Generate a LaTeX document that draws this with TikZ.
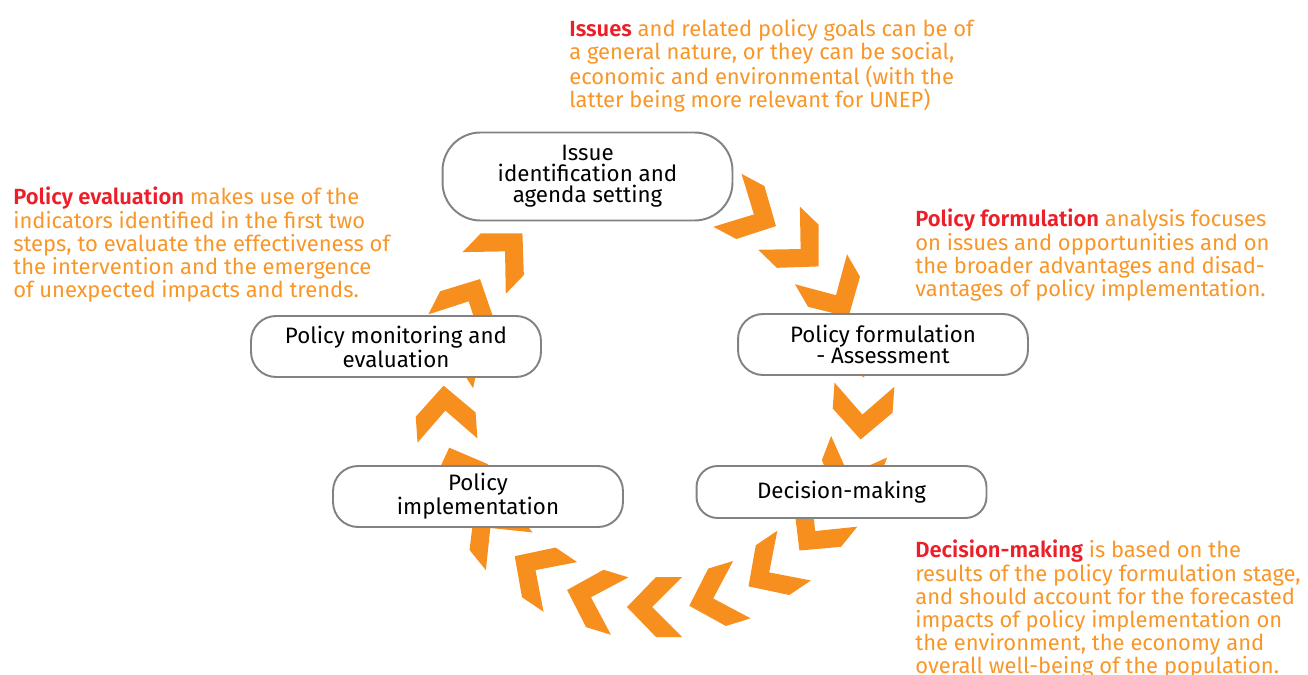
\documentclass[tikz,border=0pt]{standalone}
\usepackage{fontspec}
\setmainfont{Fira Sans}[BoldFont={* SemiBold}]
\usepackage{xcolor}

\definecolor{cycleorange}{RGB}{247,143,30}
\definecolor{noteorange}{RGB}{248,150,40}
\definecolor{notered}{RGB}{236,30,40}
\definecolor{stagegray}{RGB}{130,130,130}

\tikzset{
	stage/.style={draw=stagegray, line width=1.1pt, fill=white, rounded corners=0.5cm,
		minimum width=5.8cm, minimum height=1.22cm, align=center, inner sep=0pt,
		font=\fontsize{12.7}{12}\selectfont},
	note/.style={anchor=north west, inner sep=0pt, align=left, text=noteorange,
		font=\fontsize{12.5}{13.1}\selectfont}
}
\newcommand{\hl}[1]{{\color{notered}\bfseries #1}}

\begin{document}
\begin{tikzpicture}[x=0.02cm, y=0.02cm]
	\useasboundingbox (0,0) rectangle (1308,-675);
	% ring of chevrons, clockwise
	\begin{scope}[shift={(654,-398)}]
		\foreach \a in {-90,-73,-56,-39,-21,-4,13,30,46,62,136,153,168,184,201,219,236,253}
			\fill[cycleorange, shift={(\a:209)}, rotate=\a-90]
				(27,0) -- (-2,30) -- (-28,30) -- (2,0) -- (-28,-30) -- (-2,-30) -- cycle;
	\end{scope}
	% stages
	\node[stage, minimum height=1.76cm, rounded corners=0.76cm] (issue) at (587.5,-176.5) {Issue\\identification and\\agenda setting};
	\node[stage] (formulation) at (883,-344.5) {Policy formulation\\- Assessment};
	\node[stage, minimum height=1.04cm, rounded corners=0.42cm] (decision) at (841.5,-492) {Decision-making};
	\node[stage] (implementation) at (478,-496.5) {Policy\\implementation};
	\node[stage] (monitoring) at (396,-346.5) {Policy monitoring and\\evaluation};
	% notes
	\node[note] (issuenote) at (569,-19) {\hl{Issues} and related policy goals can be of\\a general nature, or they can be social,\\economic and environmental (with the\\latter being more relevant for UNEP)};
	\node[note] (evalnote) at (13,-187) {\hl{Policy evaluation} makes use of the\\indicators identified in the first two\\steps, to evaluate the effectiveness of\\the intervention and the emergence\\of unexpected impacts and trends.};
	\node[note] (formnote) at (915,-209) {\hl{Policy formulation} analysis focuses\\on issues and opportunities and on\\the broader advantages and disad-\\vantages of policy implementation.};
	\node[note] (decisionnote) at (915,-540) {\hl{Decision-making} is based on the\\results of the policy formulation stage,\\and should account for the forecasted\\impacts of policy implementation on\\the environment, the economy and\\overall well-being of the population.};
\end{tikzpicture}
\end{document}
